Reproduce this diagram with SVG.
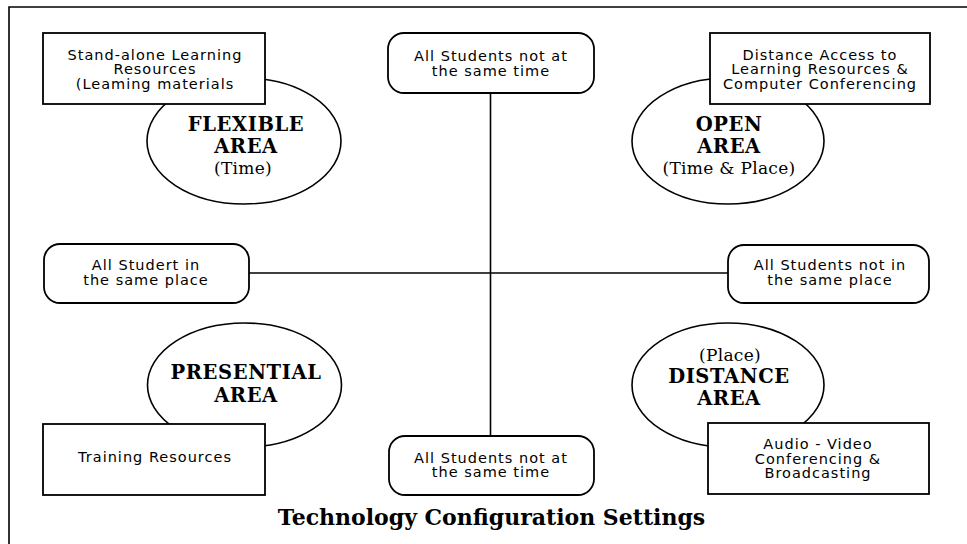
<svg xmlns="http://www.w3.org/2000/svg" width="967" height="544" viewBox="0 0 967 544">
  <style>
    .frame { fill: none; stroke: #000; stroke-width: 1.6; }
    .link { fill: none; stroke: #000; stroke-width: 1.6; }
    .box { fill: #fff; stroke: #000; stroke-width: 1.8; }
    .area { fill: #fff; stroke: #000; stroke-width: 1.6; }
    .txt { font-family: "DejaVu Sans", "Liberation Sans", sans-serif; font-size: 14.5px; letter-spacing: 1px; fill: #000; text-anchor: middle; }
    .head { font-family: "DejaVu Serif", "Liberation Serif", serif; font-size: 19.5px; letter-spacing: 0.6px; font-weight: bold; fill: #000; text-anchor: middle; }
    .sub { font-family: "DejaVu Serif", "Liberation Serif", serif; font-size: 17px; letter-spacing: 0.3px; fill: #000; text-anchor: middle; }
    .title { font-family: "DejaVu Serif", "Liberation Serif", serif; font-size: 22px; font-weight: bold; fill: #000; text-anchor: middle; }
  </style>

  <rect width="967" height="544" fill="#fff"/>

  <!-- frame: top and left edges -->
  <g id="frame">
    <polyline class="frame" points="9,544 9,7 967,7"/>
  </g>

  <!-- axes joining the four condition labels -->
  <g id="connectors">
    <line class="link" x1="490.5" y1="93" x2="490.5" y2="436"/>
    <line class="link" x1="249" y1="273" x2="728" y2="273"/>
  </g>

  <!-- quadrant areas -->
  <g id="flexible-area">
    <ellipse class="area" cx="244" cy="141" rx="97" ry="63"/>
    <text class="head" x="246" y="130.5">FLEXIBLE</text>
    <text class="head" x="246" y="152.5">AREA</text>
    <text class="sub" x="243" y="174">(Time)</text>
  </g>

  <g id="open-area">
    <ellipse class="area" cx="728" cy="141" rx="96" ry="63"/>
    <text class="head" x="729" y="130.5">OPEN</text>
    <text class="head" x="729" y="152.5">AREA</text>
    <text class="sub" x="729" y="174">(Time &amp; Place)</text>
  </g>

  <g id="presential-area">
    <ellipse class="area" cx="244.5" cy="385" rx="97" ry="62"/>
    <text class="head" x="246" y="378.5">PRESENTIAL</text>
    <text class="head" x="246" y="401.5">AREA</text>
  </g>

  <g id="distance-area">
    <ellipse class="area" cx="728" cy="385" rx="96" ry="62"/>
    <text class="sub" x="730" y="361">(Place)</text>
    <text class="head" x="729" y="383">DISTANCE</text>
    <text class="head" x="729" y="405">AREA</text>
  </g>

  <!-- resource boxes -->
  <g id="stand-alone-resources">
    <rect class="box" x="43" y="33" width="222" height="71"/>
    <text class="txt" x="155" y="59.5">Stand-alone Learning</text>
    <text class="txt" x="155" y="74">Resources</text>
    <text class="txt" x="155" y="88.5">(Leaming materials</text>
  </g>

  <g id="distance-access">
    <rect class="box" x="710" y="33" width="220" height="71"/>
    <text class="txt" x="820" y="59.5">Distance Access to</text>
    <text class="txt" x="820" y="74">Learning Resources &amp;</text>
    <text class="txt" x="820" y="88.5">Computer Conferencing</text>
  </g>

  <g id="training-resources">
    <rect class="box" x="43" y="424" width="222" height="71"/>
    <text class="txt" x="155" y="462">Training Resources</text>
  </g>

  <g id="audio-video">
    <rect class="box" x="708" y="423" width="221" height="71"/>
    <text class="txt" x="818" y="449">Audio - Video</text>
    <text class="txt" x="818" y="463.5">Conferencing &amp;</text>
    <text class="txt" x="818" y="478">Broadcasting</text>
  </g>

  <!-- condition labels -->
  <g id="not-same-time-top">
    <rect class="box" x="388" y="33" width="206" height="60" rx="16"/>
    <text class="txt" x="491" y="61">All Students not at</text>
    <text class="txt" x="491" y="75.5">the same time</text>
  </g>

  <g id="same-place">
    <rect class="box" x="44" y="244" width="205" height="59" rx="16"/>
    <text class="txt" x="146" y="270">All Studert in</text>
    <text class="txt" x="146" y="284.5">the same place</text>
  </g>

  <g id="not-same-place">
    <rect class="box" x="728" y="245" width="201" height="58" rx="16"/>
    <text class="txt" x="830" y="270">All Students not in</text>
    <text class="txt" x="830" y="284.5">the same place</text>
  </g>

  <g id="not-same-time-bottom">
    <rect class="box" x="389" y="436" width="205" height="59" rx="16"/>
    <text class="txt" x="491" y="462.5">All Students not at</text>
    <text class="txt" x="491" y="477">the same time</text>
  </g>

  <text id="caption" class="title" x="491.5" y="525">Technology Configuration Settings</text>
</svg>
